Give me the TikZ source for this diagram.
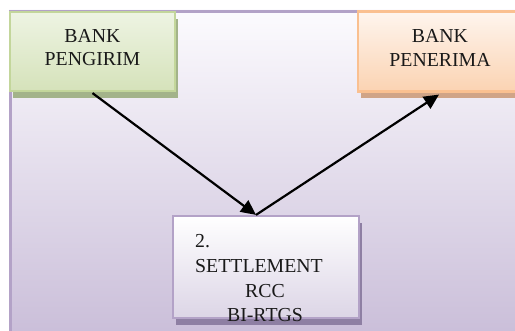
\documentclass[tikz,border=0pt]{standalone}
\usepackage{fontspec}
\setmainfont{Liberation Serif}
\usetikzlibrary{arrows.meta,shadows,calc}
\definecolor{bgtop}{HTML}{FCFBFE}
\definecolor{bgbot}{HTML}{CABED9}
\definecolor{bgline}{HTML}{B3A2C7}
\definecolor{grtop}{HTML}{EEF4E3}
\definecolor{grbot}{HTML}{D5E2BA}
\definecolor{grline}{HTML}{C3D69B}
\definecolor{grshadow}{HTML}{A3B38A}
\definecolor{ortop}{HTML}{FEF5EE}
\definecolor{orbot}{HTML}{FBD3B2}
\definecolor{orline}{HTML}{FAC090}
\definecolor{orshadow}{HTML}{D0A487}
\definecolor{putop}{HTML}{FFFFFF}
\definecolor{pubot}{HTML}{DCD5E6}
\definecolor{pushadow}{HTML}{8E7FA3}
\tikzset{
  txt/.style={font=\fontsize{19.8}{23}\selectfont, text=black!90, align=center, inner sep=0pt},
  boxbase/.style={rectangle, line width=2.2pt, inner sep=0pt},
  greenbox/.style={boxbase, draw=grline, top color=grtop, bottom color=grbot,
    drop shadow={shadow xshift=3pt, shadow yshift=-7pt, fill=grshadow, opacity=1}},
  orangebox/.style={boxbase, draw=orline, top color=ortop, bottom color=orbot,
    drop shadow={shadow xshift=3pt, shadow yshift=-7pt, fill=orshadow, opacity=1}},
  purplebox/.style={boxbase, draw=bgline, top color=putop, bottom color=pubot,
    drop shadow={shadow xshift=3pt, shadow yshift=-7pt, fill=pushadow, opacity=1}},
  flow/.style={line width=2.2pt, -{Triangle[length=15pt,width=14pt]}}
}
\begin{document}
\begin{tikzpicture}[x=1pt,y=-1pt]
\useasboundingbox (0,0) rectangle (515,331);
% background panel
\shade[top color=bgtop, bottom color=bgbot] (9,10) rectangle (520,336);
\draw[bgline, line width=3pt] (10.5,340) -- (10.5,11.5) -- (520,11.5);
% boxes
\node[greenbox, minimum width=165pt, minimum height=79pt] (green) at (92.5,51.5) {};
\node[orangebox, minimum width=164pt, minimum height=80pt] (orange) at (440,51.5) {};
\node[purplebox, minimum width=186pt, minimum height=102pt] (settle) at (266,267) {};
% texts
\node[txt, anchor=base] (gt1) at (92.5,43) {BANK};
\node[txt, anchor=base] (gt2) at (92.5,66) {PENGIRIM};
\node[txt, anchor=base] (ot1) at (440,43) {BANK};
\node[txt, anchor=base] (ot2) at (440,67) {PENERIMA};
\node[txt, anchor=base west] (st1) at (195,248) {2.};
\node[txt, anchor=base west] (st2) at (195,273) {SETTLEMENT};
\node[txt, anchor=base] (st3) at (265,298) {RCC};
\node[txt, anchor=base] (st4) at (265,322) {BI-RTGS};
% connectors
\coordinate (meet) at ([xshift=-10pt]settle.north);
\draw[flow] ([yshift=-1pt]green.south) -- (meet);
\draw[flow] (meet) -- ([xshift=-1pt,yshift=-2pt]orange.south);
\end{tikzpicture}
\end{document}
